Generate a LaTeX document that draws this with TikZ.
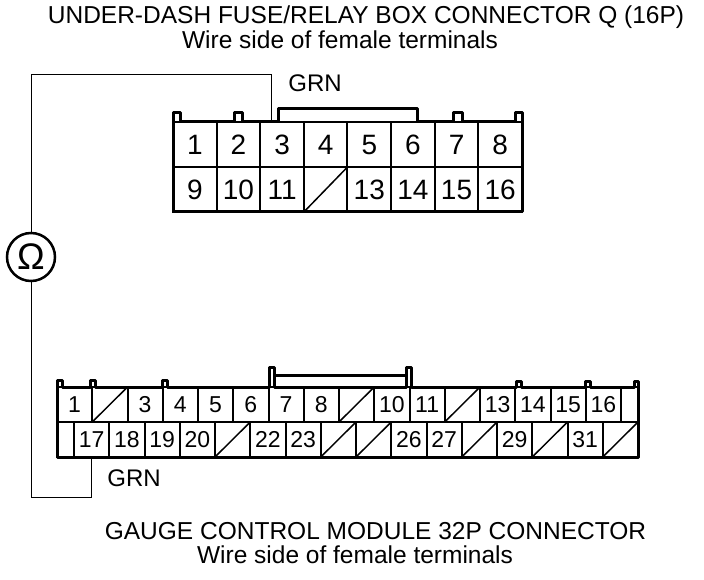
\documentclass[tikz,border=0pt]{standalone}
\usepackage{fontspec}
\setmainfont{Liberation Sans}
\usetikzlibrary{positioning}
\tikzstyle{celda}=[
	rectangle,
	draw=black,
	line width=2pt,
	inner sep=0pt,
	outer sep=0pt,
	text height=20pt,
	text depth=0pt,
	minimum width=43.625pt,
	minimum height=45pt,
	font=\fontsize{28}{28}\selectfont]
\tikzstyle{celdam}=[
	celda,
	text height=16.5pt,
	minimum width=35.25pt,
	minimum height=35pt,
	font=\fontsize{23}{23}\selectfont]
\tikzstyle{relleno}=[
	celdam,
	minimum width=17pt]
\tikzstyle{contorno}=[
	line width=3pt,
	line join=round]
\tikzstyle{cable}=[
	line width=1pt]
\tikzstyle{titulo}=[
	font=\fontsize{24.5}{26}\selectfont]
\begin{document}
\begin{tikzpicture}[x=1pt,y=-1pt]
	\useasboundingbox (0,0) rectangle (704,580);
	% textos
	\node[titulo] (tit1) at (366,17) {UNDER-DASH FUSE/RELAY BOX CONNECTOR Q (16P)};
	\node[titulo] (sub1) at (340,40) {Wire side of female terminals};
	\node[titulo] (tit2) at (375.5,531) {GAUGE CONTROL MODULE 32P CONNECTOR};
	\node[titulo] (sub2) at (355,555) {Wire side of female terminals};
	% conector Q
	\node[celda] (q1) at (194.8,144.5) {1};
	\node[celda] (q2) [right=0pt of q1] {2};
	\node[celda] (q3) [right=0pt of q2] {3};
	\node[celda] (q4) [right=0pt of q3] {4};
	\node[celda] (q5) [right=0pt of q4] {5};
	\node[celda] (q6) [right=0pt of q5] {6};
	\node[celda] (q7) [right=0pt of q6] {7};
	\node[celda] (q8) [right=0pt of q7] {8};
	\node[celda] (q9) [below=0pt of q1] {9};
	\node[celda] (q10) [right=0pt of q9] {10};
	\node[celda] (q11) [right=0pt of q10] {11};
	\node[celda] (q12) [right=0pt of q11] {};
	\node[celda] (q13) [right=0pt of q12] {13};
	\node[celda] (q14) [right=0pt of q13] {14};
	\node[celda] (q15) [right=0pt of q14] {15};
	\node[celda] (q16) [right=0pt of q15] {16};
	\draw[line width=1.5pt] (q12.south west) -- (q12.north east);
	\draw[contorno] (173,212) -- (173,113) -- (180,113) -- (180,122) -- (234,122) -- (234,113) -- (242,113) -- (242,122)
		-- (278,122) -- (278,109) -- (417,109) -- (417,122) -- (453,122) -- (453,113) -- (462,113) -- (462,122)
		-- (515,122) -- (515,113) -- (522,113) -- (522,212) -- cycle;
	% conector del modulo
	\node[celdam] (m1) at (74.625,404.5) {1};
	\node[celdam] (m2) [right=0pt of m1] {};
	\node[celdam] (m3) [right=0pt of m2] {3};
	\node[celdam] (m4) [right=0pt of m3] {4};
	\node[celdam] (m5) [right=0pt of m4] {5};
	\node[celdam] (m6) [right=0pt of m5] {6};
	\node[celdam] (m7) [right=0pt of m6] {7};
	\node[celdam] (m8) [right=0pt of m7] {8};
	\node[celdam] (m9) [right=0pt of m8] {};
	\node[celdam] (m10) [right=0pt of m9] {10};
	\node[celdam] (m11) [right=0pt of m10] {11};
	\node[celdam] (m12) [right=0pt of m11] {};
	\node[celdam] (m13) [right=0pt of m12] {13};
	\node[celdam] (m14) [right=0pt of m13] {14};
	\node[celdam] (m15) [right=0pt of m14] {15};
	\node[celdam] (m16) [right=0pt of m15] {16};
	\node[relleno] (mfa) [right=0pt of m16] {};
	\node[relleno,anchor=north west] (mfb) at (m1.south west) {};
	\node[celdam] (m17) [right=0pt of mfb] {17};
	\node[celdam] (m18) [right=0pt of m17] {18};
	\node[celdam] (m19) [right=0pt of m18] {19};
	\node[celdam] (m20) [right=0pt of m19] {20};
	\node[celdam] (m21) [right=0pt of m20] {};
	\node[celdam] (m22) [right=0pt of m21] {22};
	\node[celdam] (m23) [right=0pt of m22] {23};
	\node[celdam] (m24) [right=0pt of m23] {};
	\node[celdam] (m25) [right=0pt of m24] {};
	\node[celdam] (m26) [right=0pt of m25] {26};
	\node[celdam] (m27) [right=0pt of m26] {27};
	\node[celdam] (m28) [right=0pt of m27] {};
	\node[celdam] (m29) [right=0pt of m28] {29};
	\node[celdam] (m30) [right=0pt of m29] {};
	\node[celdam] (m31) [right=0pt of m30] {31};
	\node[celdam] (m32) [right=0pt of m31] {};
	\draw[line width=1.5pt] (m2.south west) -- (m2.north east);
	\draw[line width=1.5pt] (m9.south west) -- (m9.north east);
	\draw[line width=1.5pt] (m12.south west) -- (m12.north east);
	\draw[line width=1.5pt] (m21.south west) -- (m21.north east);
	\draw[line width=1.5pt] (m24.south west) -- (m24.north east);
	\draw[line width=1.5pt] (m25.south west) -- (m25.north east);
	\draw[line width=1.5pt] (m28.south west) -- (m28.north east);
	\draw[line width=1.5pt] (m30.south west) -- (m30.north east);
	\draw[line width=1.5pt] (m32.south west) -- (m32.north east);
	\draw[contorno] (57,457) -- (57,380) -- (62,380) -- (62,387) -- (90,387) -- (90,380) -- (95,380) -- (95,387)
		-- (162,387) -- (162,380) -- (167,380) -- (167,387) -- (269,387) -- (269,367) -- (274,367) -- (274,387)
		-- (406,387) -- (406,367) -- (411,367) -- (411,387) -- (516,387) -- (516,381) -- (521,381) -- (521,387)
		-- (585,387) -- (585,381) -- (590,381) -- (590,387) -- (634,387) -- (634,381) -- (638,381) -- (638,457) -- cycle;
	\draw[contorno] (274,375) -- (406,375);
	% medicion
	\node[draw,circle,line width=2.5pt,minimum size=48pt,inner sep=0pt,font=\fontsize{37}{37}\selectfont] (ohm) at (31,257) {Ω};
	\node[titulo,font=\fontsize{24}{24}\selectfont] (grn1) at (315,83) {GRN};
	\node[titulo,font=\fontsize{24}{24}\selectfont] (grn2) at (134,478) {GRN};
	\coordinate (pq) at ([xshift=11pt]q3.north west);
	\coordinate (esq1) at (31,75);
	\coordinate (esq2) at (31,497);
	\draw[cable] (pq) |- (esq1) -- (ohm.north);
	\draw[cable] (ohm.south) -- (esq2) -| (m17.south);
\end{tikzpicture}
\end{document}
